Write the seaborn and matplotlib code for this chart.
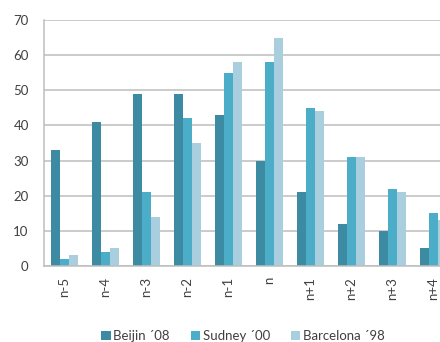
import matplotlib
matplotlib.use("Agg")
import matplotlib.pyplot as plt
import seaborn as sns
import pandas as pd
from matplotlib.patches import Patch

categories = ["n-5", "n-4", "n-3", "n-2", "n-1", "n", "n+1", "n+2", "n+3", "n+4"]
beijing = [33, 41, 49, 49, 43, 30, 21, 12, 10, 5]
sudney = [2, 4, 21, 42, 55, 58, 45, 31, 22, 15]
barcelona = [3, 5, 14, 35, 58, 65, 44, 31, 21, 13]
series_names = ["Beijin \u00b408", "Sudney \u00b400", "Barcelona \u00b498"]
colors = ["#3C8BA3", "#4BADC7", "#A9CFDE"]

rows = []
for name, vals in zip(series_names, [beijing, sudney, barcelona]):
    for c, v in zip(categories, vals):
        rows.append({"cat": c, "series": name, "value": v})
df = pd.DataFrame(rows)

sns.set_theme(style="white")
plt.rcParams["font.family"] = ["Lato", "DejaVu Sans"]

fig = plt.figure(figsize=(4.4, 3.42), dpi=100)
ax = fig.add_axes([44 / 440, 1 - 266 / 342, 410 / 440, 246 / 342])

sns.barplot(data=df, x="cat", y="value", hue="series", order=categories,
            hue_order=series_names, palette=colors, width=0.66, gap=0,
            saturation=1, ax=ax, legend=False, edgecolor="none", linewidth=0)

ax.set_ylim(0, 70)
ax.set_xlim(-0.5, len(categories) - 0.5)
ax.set_yticks(range(0, 71, 10))
ax.yaxis.grid(True, color="#BDBDBD", linewidth=1.1)
ax.set_axisbelow(True)
ax.set_xlabel("")
ax.set_ylabel("")
for s in ["top", "right"]:
    ax.spines[s].set_visible(False)
for s in ["left", "bottom"]:
    ax.spines[s].set_color("#BDBDBD")
    ax.spines[s].set_linewidth(1.1)

ax.tick_params(axis="y", length=0, pad=11, labelsize=9.5, labelcolor="#404040")
ax.tick_params(axis="x", length=0, pad=8, labelsize=9.5, labelcolor="#404040")
for lab in ax.get_xticklabels():
    lab.set_rotation(90)

handles = [Patch(facecolor=c, edgecolor="none", label=n) for c, n in zip(colors, series_names)]
fig.legend(handles=handles, loc="center", bbox_to_anchor=(243 / 440, 1 - 336 / 342),
           ncol=3, frameon=False, fontsize=9.5, handlelength=0.7, handleheight=0.7,
           handletextpad=0.2, columnspacing=1.6, labelcolor="#404040")

fig.savefig("out.png", dpi=100)
